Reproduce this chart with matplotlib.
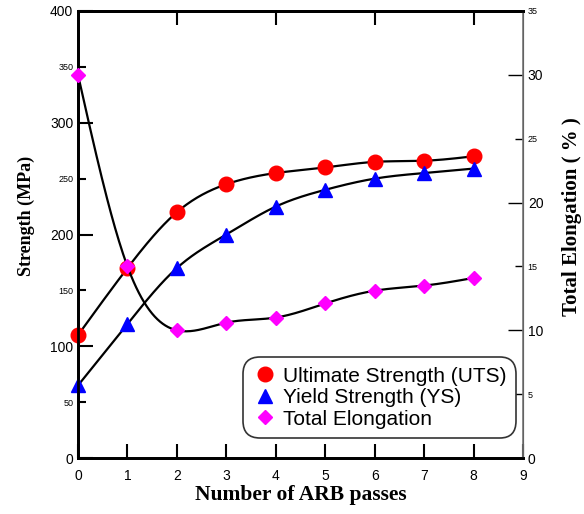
import numpy as np
import matplotlib
matplotlib.use("Agg")
import matplotlib.pyplot as plt
from matplotlib.ticker import MultipleLocator, FixedLocator

passes = [0, 1, 2, 3, 4, 5, 6, 7, 8]
uts = [110, 170, 220, 245, 255, 260, 265, 266, 270]
ys = [65, 120, 170, 200, 225, 240, 250, 255, 259]
elong = [30.0, 15.0, 10.0, 10.6, 11.0, 12.1, 13.1, 13.5, 14.1]


def spline(x, y, n=300):
    # natural cubic spline, just for the smooth connecting lines
    x = np.asarray(x, float)
    y = np.asarray(y, float)
    k = len(x)
    h = np.diff(x)
    A = np.zeros((k, k))
    b = np.zeros(k)
    A[0, 0] = A[-1, -1] = 1
    for i in range(1, k - 1):
        A[i, i - 1] = h[i - 1]
        A[i, i] = 2 * (h[i - 1] + h[i])
        A[i, i + 1] = h[i]
        b[i] = 6 * ((y[i + 1] - y[i]) / h[i] - (y[i] - y[i - 1]) / h[i - 1])
    m = np.linalg.solve(A, b)
    xs = np.linspace(x[0], x[-1], n)
    idx = np.clip(np.searchsorted(x, xs) - 1, 0, k - 2)
    t = xs - x[idx]
    hi = h[idx]
    a = y[idx]
    c1 = (y[idx + 1] - y[idx]) / hi - hi * (2 * m[idx] + m[idx + 1]) / 6
    c2 = m[idx] / 2
    c3 = (m[idx + 1] - m[idx]) / (6 * hi)
    return xs, a + c1 * t + c2 * t ** 2 + c3 * t ** 3


fig = plt.figure(figsize=(5.84, 5.14), dpi=100)
ax = fig.add_axes([0.1336, 0.1089, 0.762, 0.8697])
ax2 = ax.twinx()

serif = "Liberation Serif"
sans = "Liberation Sans"

# curves
for yv in (uts, ys):
    xs, ss = spline(passes, yv)
    ax.plot(xs, ss, color="black", lw=1.6, zorder=2)
xs, ss = spline(passes, elong)
ax2.plot(xs, ss, color="black", lw=1.6, zorder=2)

h1, = ax.plot(passes, uts, "o", color="red", ms=10.5, ls="none",
              label="Ultimate Strength (UTS)", clip_on=False, zorder=3)
h2, = ax.plot(passes, ys, "^", color="blue", ms=10, ls="none",
              label="Yield Strength (YS)", clip_on=False, zorder=3)
h3, = ax2.plot(passes, elong, "D", color="magenta", ms=7.5, ls="none",
               label="Total Elongation", clip_on=False, zorder=3)

ax.set_xlim(0, 9)
ax.set_ylim(0, 400)
ax2.set_ylim(0, 35)

# left axis ticks
ax.xaxis.set_major_locator(MultipleLocator(1))
ax.yaxis.set_major_locator(MultipleLocator(100))
ax.yaxis.set_minor_locator(FixedLocator([50, 150, 250, 350]))
ax.yaxis.set_minor_formatter(lambda v, p: f"{v:.0f}")
ax.tick_params(axis="x", direction="in", length=10, width=1.5, labelsize=10,
               pad=8, labelfontfamily=sans)
ax.tick_params(axis="y", which="major", direction="in", length=11, width=1.5,
               labelsize=10, labelfontfamily=sans)
ax.tick_params(axis="y", which="minor", direction="in", length=6, width=1.5,
               labelsize=6.5, labelfontfamily=sans)

# right axis ticks
ax2.yaxis.set_major_locator(MultipleLocator(10))
ax2.yaxis.set_minor_locator(FixedLocator([5, 15, 25, 35]))
ax2.yaxis.set_minor_formatter(lambda v, p: f"{v:.0f}")
ax2.tick_params(axis="y", which="major", direction="in", length=11, width=1,
                labelsize=10, labelfontfamily=sans)
ax2.tick_params(axis="y", which="minor", direction="in", length=6, width=1,
                labelsize=6.5, labelfontfamily=sans)

# top ticks at even passes
top = ax.secondary_xaxis("top")
top.set_xticks([2, 4, 6, 8])
top.tick_params(direction="in", length=10, width=1.5, labeltop=False)

for s in ("left", "bottom", "top"):
    ax.spines[s].set_linewidth(2)
ax2.spines["top"].set_linewidth(2)
ax2.spines["left"].set_linewidth(2)
ax2.spines["bottom"].set_linewidth(2)
ax2.spines["right"].set_color("#777777")
ax2.spines["right"].set_linewidth(1.2)
top.spines["top"].set_linewidth(2)

ax.set_xlabel("Number of ARB passes", fontsize=15.5, fontweight="bold",
              family=serif, labelpad=1)
ax.set_ylabel("Strength (MPa)", fontsize=13, fontweight="bold",
              family=serif, labelpad=11)
ax2.set_ylabel("Total Elongation ( % )", fontsize=15, fontweight="bold",
               family=serif, labelpad=13)
ax.yaxis.label.set_y(0.541)
ax2.yaxis.label.set_y(0.541)

leg = ax2.legend(handles=[h1, h2, h3], loc="lower right",
                 bbox_to_anchor=(0.985, 0.045), fancybox=True,
                 prop={"family": sans, "size": 15}, handletextpad=0.3,
                 handlelength=1.2, labelspacing=0.12, borderpad=0.45,
                 framealpha=1, borderaxespad=0)
leg.get_frame().set_edgecolor("#333333")
leg.get_frame().set_linewidth(1.2)
leg.get_frame().set_boxstyle("round", pad=0, rounding_size=0.8)

fig.savefig("out.png", dpi=100)
